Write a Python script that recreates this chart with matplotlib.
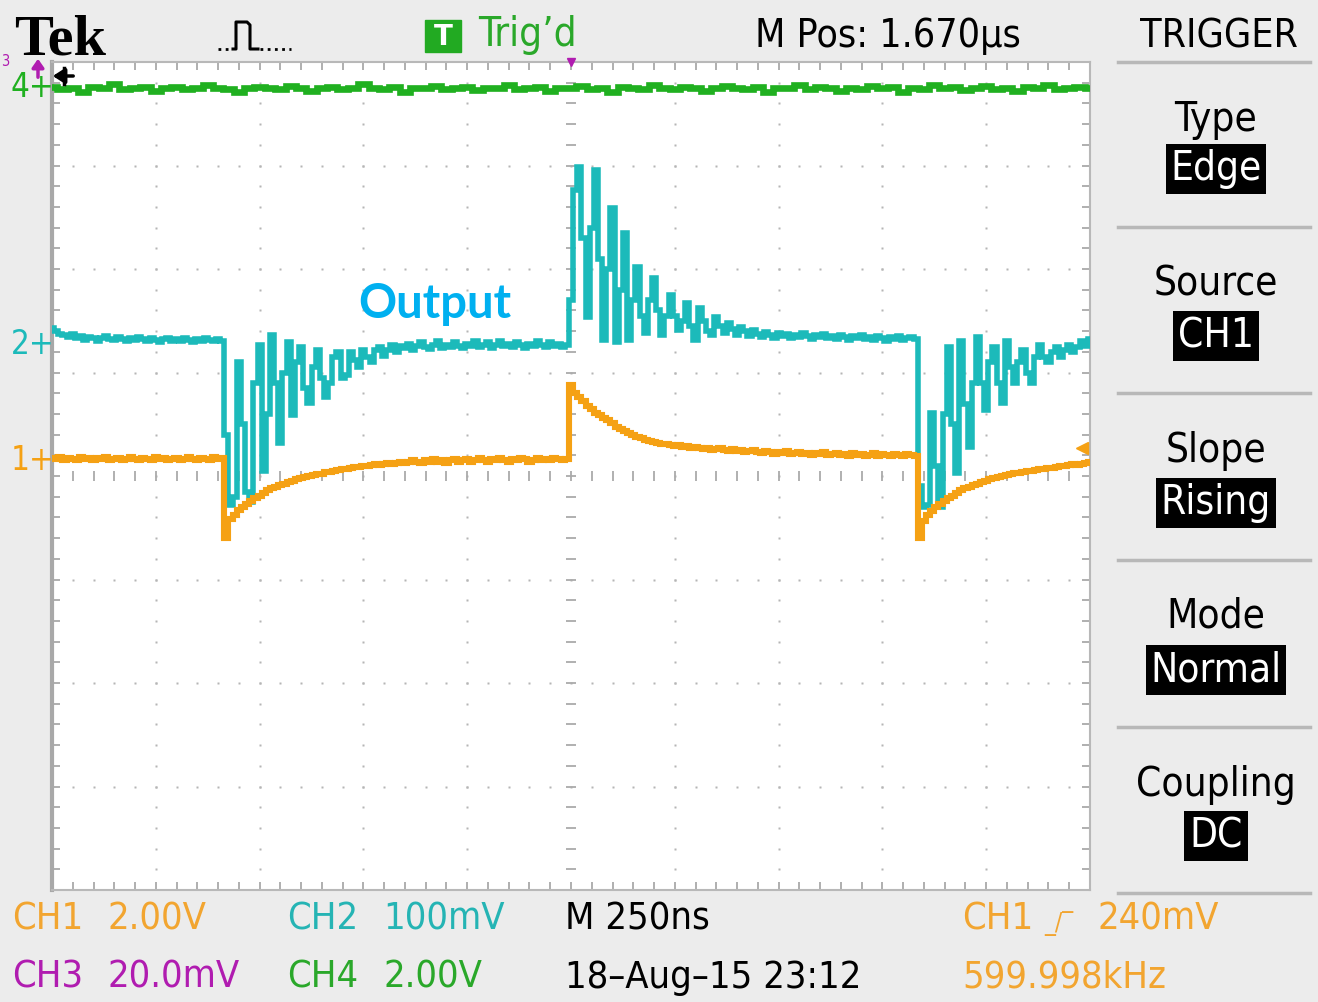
import numpy as np
import matplotlib
matplotlib.use("Agg")
import matplotlib.pyplot as plt
from matplotlib import font_manager as fm

# ------------------------------------------------------------------
# Data: screen readings in vertical divisions (8 div screen, centre = 0)
# horizontal: 10 div, 250 ns/div
# ------------------------------------------------------------------
sample_step_div = 0.04          # one sample every 0.04 div (10 ns)

ch1_div = [
    0.17, 0.16, 0.18, 0.15, 0.17, 0.16, 0.15, 0.18, 0.16, 0.17,
    0.15, 0.17, 0.16, 0.18, 0.15, 0.16, 0.17, 0.15, 0.16, 0.18,
    0.16, 0.15, 0.17, 0.16, 0.15, 0.18, 0.16, 0.17, 0.15, 0.16,
    0.17, 0.15, 0.16, 0.18, 0.16, 0.15, 0.17, 0.16, 0.15, 0.18,
    0.16, 0.17,
    -0.60, -0.42, -0.38, -0.33, -0.30, -0.27, -0.24, -0.21,
    -0.19, -0.16, -0.14, -0.12, -0.11, -0.09, -0.08, -0.06, -0.05, -0.03,
    -0.02, -0.01, 0.00, 0.01, 0.02, 0.02, 0.04, 0.04, 0.05, 0.06,
    0.07, 0.07, 0.08, 0.09, 0.09, 0.10, 0.10, 0.11, 0.12, 0.11,
    0.12, 0.13, 0.12, 0.13, 0.14, 0.13, 0.14, 0.15, 0.14, 0.13,
    0.15, 0.14, 0.16, 0.14, 0.15, 0.13, 0.15, 0.16, 0.14, 0.15,
    0.16, 0.14, 0.15, 0.17, 0.15, 0.14, 0.16, 0.15, 0.17, 0.15,
    0.14, 0.16, 0.15, 0.17, 0.16, 0.14, 0.15, 0.17, 0.15, 0.16,
    0.15, 0.17, 0.16, 0.15, 0.16,
    0.88, 0.80, 0.76, 0.72, 0.68,
    0.65, 0.61, 0.59, 0.56, 0.54, 0.51, 0.47, 0.45, 0.43, 0.42,
    0.40, 0.38, 0.37, 0.35, 0.34, 0.33, 0.32, 0.31, 0.31, 0.30,
    0.29, 0.30, 0.28, 0.29, 0.27, 0.28, 0.27, 0.26, 0.27, 0.25,
    0.26, 0.27, 0.25, 0.24, 0.26, 0.24, 0.25, 0.23, 0.24, 0.25,
    0.23, 0.22, 0.24, 0.23, 0.21, 0.23, 0.22, 0.24, 0.21, 0.22,
    0.23, 0.21, 0.22, 0.20, 0.22, 0.21, 0.23, 0.20, 0.21, 0.22,
    0.20, 0.21, 0.19, 0.22, 0.20, 0.21, 0.19, 0.20, 0.22, 0.19,
    0.21, 0.20, 0.19, 0.21, 0.20, 0.19, 0.21, 0.20, 0.19,
    -0.60, -0.43, -0.38, -0.34, -0.30, -0.27, -0.24, -0.21, -0.19, -0.16, -0.14,
    -0.12, -0.11, -0.09, -0.08, -0.06, -0.05, -0.03, -0.02, -0.01, 0.00,
    0.01, 0.02, 0.03, 0.03, 0.04, 0.05, 0.05, 0.06, 0.07, 0.07,
    0.08, 0.08, 0.09, 0.10, 0.10, 0.11, 0.12, 0.11, 0.12, 0.13, 0.14,
]

ch2_div = [
    1.43, 1.40, 1.37, 1.36, 1.34, 1.37, 1.33, 1.35, 1.31, 1.34,
    1.33, 1.30, 1.33, 1.35, 1.32, 1.31, 1.34, 1.32, 1.30, 1.33,
    1.31, 1.34, 1.32, 1.30, 1.33, 1.31, 1.29, 1.32, 1.33, 1.30,
    1.32, 1.30, 1.33, 1.31, 1.29, 1.32, 1.30, 1.33, 1.31, 1.30,
    1.32, 1.30,
    0.40, -0.28, -0.20, 1.10, 0.50, -0.15, -0.25, 0.90,
    1.27, 0.05, 0.60, 1.36, 0.90, 0.32, 1.00, 1.29, 0.59, 1.10,
    1.25, 0.85, 0.71, 1.05, 1.22, 0.95, 0.76, 0.90, 1.15, 1.20,
    0.95, 0.98, 1.20, 1.12, 1.05, 1.22, 1.15, 1.10, 1.22, 1.25,
    1.16, 1.22, 1.27, 1.20, 1.26, 1.24, 1.28, 1.22, 1.26, 1.29,
    1.25, 1.23, 1.27, 1.30, 1.24, 1.27, 1.25, 1.29, 1.26, 1.24,
    1.28, 1.26, 1.30, 1.25, 1.27, 1.29, 1.24, 1.27, 1.30, 1.26,
    1.28, 1.25, 1.29, 1.27, 1.24, 1.28, 1.26, 1.30, 1.27, 1.25,
    1.29, 1.26, 1.28, 1.25, 1.27,
    1.70, 2.76, 2.99, 2.30, 1.54,
    2.40, 2.96, 2.10, 1.31, 2.00, 2.59, 1.29, 1.80, 2.35, 1.31,
    1.70, 2.02, 1.55, 1.38, 1.70, 1.91, 1.60, 1.36, 1.55, 1.75,
    1.55, 1.41, 1.50, 1.67, 1.45, 1.31, 1.62, 1.50, 1.40, 1.36,
    1.54, 1.45, 1.38, 1.48, 1.42, 1.36, 1.44, 1.40, 1.35, 1.41,
    1.37, 1.34, 1.39, 1.36, 1.33, 1.38, 1.35, 1.37, 1.33, 1.36,
    1.34, 1.38, 1.35, 1.32, 1.36, 1.34, 1.37, 1.33, 1.35, 1.32,
    1.36, 1.34, 1.31, 1.35, 1.33, 1.36, 1.32, 1.34, 1.31, 1.35,
    1.33, 1.30, 1.34, 1.32, 1.35, 1.31, 1.33, 1.34, 1.32,
    -0.10, -0.30, -0.28, 0.61, 0.10, -0.30, 0.60, 1.25, 0.50, 0.03, 1.30,
    0.70, 0.28, 0.90, 1.34, 0.90, 0.64, 1.10, 1.25, 0.90, 0.71,
    1.30, 1.05, 0.90, 1.10, 1.22, 1.00, 0.90, 1.15, 1.27, 1.15,
    1.10, 1.20, 1.25, 1.15, 1.22, 1.27, 1.20, 1.25, 1.30, 1.26, 1.32,
]

ch4_step_div = 0.1
ch4_div = [
    3.76, 3.74, 3.75, 3.71, 3.76, 3.75, 3.79, 3.74, 3.75, 3.76,
    3.72, 3.75, 3.76, 3.74, 3.75, 3.78, 3.75, 3.74, 3.71, 3.75,
    3.76, 3.75, 3.74, 3.77, 3.75, 3.72, 3.75, 3.76, 3.74, 3.75,
    3.79, 3.75, 3.74, 3.76, 3.71, 3.75, 3.75, 3.77, 3.74, 3.75,
    3.76, 3.73, 3.75, 3.75, 3.78, 3.74, 3.75, 3.76, 3.72, 3.75,
    3.75, 3.77, 3.74, 3.75, 3.71, 3.76, 3.75, 3.74, 3.78, 3.75,
    3.74, 3.76, 3.75, 3.72, 3.75, 3.77, 3.75, 3.74, 3.76, 3.71,
    3.75, 3.75, 3.78, 3.74, 3.76, 3.75, 3.72, 3.75, 3.74, 3.77,
    3.75, 3.76, 3.71, 3.75, 3.74, 3.78, 3.75, 3.76, 3.73, 3.75,
    3.77, 3.74, 3.75, 3.72, 3.76, 3.75, 3.78, 3.74, 3.75, 3.76, 3.75,
]

ch1_ground_div = 0.15
ch2_ground_div = 1.27
ch4_ground_div = 3.75
ch1_scale_v = 2.0
trigger_level_v = 0.24

menu_titles = ["Type", "Source", "Slope", "Mode", "Coupling"]
menu_values = ["Edge", "CH1", "Rising", "Normal", "DC"]

# ------------------------------------------------------------------
C_ORANGE = "#f5a114"
C_CYAN = "#1cbaba"
C_GREEN = "#20b020"
C_MAG = "#b01cb0"
C_TXT_OR = "#f2a530"
C_TXT_CY = "#25b4b4"
C_TXT_GR = "#2aa82a"
BG = "#ececec"

names = {f.name for f in fm.fontManager.ttflist}
if "Liberation Sans Narrow" in names:
    SF, K, STRETCH = "Liberation Sans Narrow", 1.0, "normal"
else:
    SF, K, STRETCH = "DejaVu Sans", 0.88, "condensed"

W, H = 1318, 1002
fig = plt.figure(figsize=(W / 100, H / 100), dpi=100, facecolor=BG)

# screen area (pixels 52..1090 x 62..890)
L, T, R, B = 52, 62, 1090, 890
ax = fig.add_axes([L / W, (H - B) / H, (R - L) / W, (B - T) / H])
ax.set_zorder(1)
ax.set_facecolor("white")
ax.set_xlim(0, 10)
ax.set_ylim(-4, 4)

major_x = np.arange(0, 11, 1)
major_y = np.arange(-4, 5, 1)
minor_x = np.round(np.arange(0, 10.001, 0.2), 2)
minor_y = np.round(np.arange(-4, 4.001, 0.2), 2)
ax.set_xticks(major_x)
ax.set_yticks(major_y)
ax.set_xticks(minor_x, minor=True)
ax.set_yticks(minor_y, minor=True)
ax.tick_params(which="both", direction="in", length=6, width=1.3,
               color="#a9a9a9", top=True, right=True,
               labelbottom=False, labelleft=False)
for s in ax.spines.values():
    s.set_color("#b8b8b8")
    s.set_linewidth(1.5)
ax.spines["left"].set_linewidth(3)
ax.spines["left"].set_color("#a8a8a8")

# dotted grid
inner_y = minor_y[(minor_y > -4) & (minor_y < 4)]
inner_x = minor_x[(minor_x > 0) & (minor_x < 10)]
for xv in range(1, 10):
    if xv == 5:
        continue
    ax.plot(np.full(len(inner_y), xv), inner_y, ls="none", marker="s",
            ms=1.9, mec="none", color="#b5b5b5", zorder=1)
for yv in range(-3, 4):
    if yv == 0:
        continue
    ax.plot(inner_x, np.full(len(inner_x), yv), ls="none", marker="s",
            ms=1.9, mec="none", color="#b5b5b5", zorder=1)
# centre graticule ticks
ax.plot(inner_x, np.zeros(len(inner_x)), ls="none", marker="|", ms=7,
        mew=1.3, color="#aaaaaa", zorder=1)
ax.plot(np.full(len(inner_y), 5), inner_y, ls="none", marker="_", ms=7,
        mew=1.3, color="#aaaaaa", zorder=1)

# traces
t1 = np.arange(len(ch1_div)) * sample_step_div
t2 = np.arange(len(ch2_div)) * sample_step_div
t4 = np.arange(len(ch4_div)) * ch4_step_div
ax.plot(t4, ch4_div, color=C_GREEN, lw=4.8, drawstyle="steps-mid",
        solid_joinstyle="miter", zorder=3)
ax.plot(t2, ch2_div, color=C_CYAN, lw=4.0, drawstyle="steps-mid",
        solid_joinstyle="miter", zorder=3)
ax.plot(t1, ch1_div, color=C_ORANGE, lw=4.4, drawstyle="steps-mid",
        solid_joinstyle="miter", zorder=4)

# trigger level marker (right edge) and trigger position marker (top)
trig_div = ch1_ground_div + trigger_level_v / ch1_scale_v
ax.plot([9.92], [trig_div], marker="<", ms=9, color=C_ORANGE,
        clip_on=False, zorder=5)
ax.plot([5.0], [4.0], marker="v", ms=6, color=C_MAG, clip_on=False, zorder=5)

# channel ground markers on the left
for lbl, gnd, col in [("1+", ch1_ground_div, C_ORANGE),
                      ("2+", ch2_ground_div, C_CYAN),
                      ("4+", ch4_ground_div, C_GREEN)]:
    ax.annotate(lbl, xy=(11, gnd), xycoords=("figure pixels", "data"),
                ha="left", va="center", color=col, fontsize=27 * K,
                family=SF, fontstretch=STRETCH, annotation_clip=False)

# ------------------------------------------------------------------
# overlay for all frame text
bg = fig.add_axes([0, 0, 1, 1])
bg.set_zorder(2)
bg.set_xlim(0, W)
bg.set_ylim(H, 0)
bg.axis("off")


def stxt(x, y, s, color="black", size=30, ha="left", va="baseline", **kw):
    bg.text(x, y, s, color=color, fontsize=size * K, family=SF,
            fontstretch=STRETCH, ha=ha, va=va, **kw)


# top bar
bg.text(14, 54, "Tek", family=["Liberation Serif", "DejaVu Serif"],
        fontweight="bold", fontsize=42, color="black", va="baseline")
bg.plot([218, 232], [49, 49], color="black", lw=2, ls=(0, (1, 1.6)))
bg.plot([233, 236, 236, 247, 250, 250, 258],
        [49, 49, 22, 22, 25, 49, 49], color="black", lw=2.2)
bg.plot([260, 291], [49, 49], color="black", lw=2, ls=(0, (1, 1.6)))
bg.add_patch(plt.Rectangle((425, 20), 36, 32, color="#22aa22"))
bg.text(443, 37, "T", color="white", fontsize=20, fontweight="bold",
        ha="center", va="center", family="DejaVu Sans")
stxt(478, 46, "Trig\u2019d", color=C_TXT_GR, size=33)
stxt(755, 47, "M Pos: 1.670\u00b5s", size=32)
stxt(1140, 47, "TRIGGER", size=32)

# CH3 (off-screen above) label, its up arrow and the black trigger arrow
stxt(1, 61, "3", color=C_MAG, size=12, va="center")
bg.annotate("", xy=(38, 56), xytext=(38, 80),
            arrowprops=dict(arrowstyle="-|>,head_length=0.5,head_width=0.35",
                            color=C_MAG, lw=2.5))
bg.annotate("", xy=(50, 76), xytext=(76, 76),
            arrowprops=dict(arrowstyle="-|>,head_length=0.7,head_width=0.45",
                            color="black", lw=2.5))
bg.plot([64, 64], [68, 84], color="black", lw=2.5)

# menu on the right
seps = [62, 227, 393, 560, 727, 893]
for yv in seps:
    bg.plot([1118, 1310], [yv, yv], color="#b8b8b8", lw=2.5)
title_y = [120, 285, 451, 617, 785]
value_y = [169, 336, 503, 670, 836]
for ttl, val, ty, vy in zip(menu_titles, menu_values, title_y, value_y):
    stxt(1216, ty, ttl, size=33, ha="center", va="center")
    stxt(1216, vy, val, color="white", size=33, ha="center", va="center",
         bbox=dict(boxstyle="square,pad=0.12", fc="black", ec="none"))

# annotation
bg.text(358, 318, "Output", color="#00b0f0", fontsize=34, fontweight="bold",
        family=["Lato", "Open Sans", "DejaVu Sans"], va="baseline")

# bottom readouts
row1, row2 = 930, 988
FS = 31
stxt(12, row1, "CH1", color=C_TXT_OR, size=FS)
stxt(108, row1, "2.00V", color=C_TXT_OR, size=FS)
stxt(287, row1, "CH2", color=C_TXT_CY, size=FS)
stxt(383, row1, "100mV", color=C_TXT_CY, size=FS)
stxt(565, row1, "M 250ns", size=FS)
stxt(962, row1, "CH1", color=C_TXT_OR, size=FS)
stxt(1044, row1, "_/\u203e", color=C_TXT_OR, size=20)
stxt(1097, row1, "240mV", color=C_TXT_OR, size=FS)
stxt(12, row2, "CH3", color=C_MAG, size=FS)
stxt(108, row2, "20.0mV", color=C_MAG, size=FS)
stxt(287, row2, "CH4", color=C_TXT_GR, size=FS)
stxt(383, row2, "2.00V", color=C_TXT_GR, size=FS)
stxt(565, row2, "18\u2013Aug\u201315 23:12", size=FS)
stxt(962, row2, "599.998kHz", color=C_TXT_OR, size=FS)

fig.savefig("out.png", dpi=100, facecolor=BG)
